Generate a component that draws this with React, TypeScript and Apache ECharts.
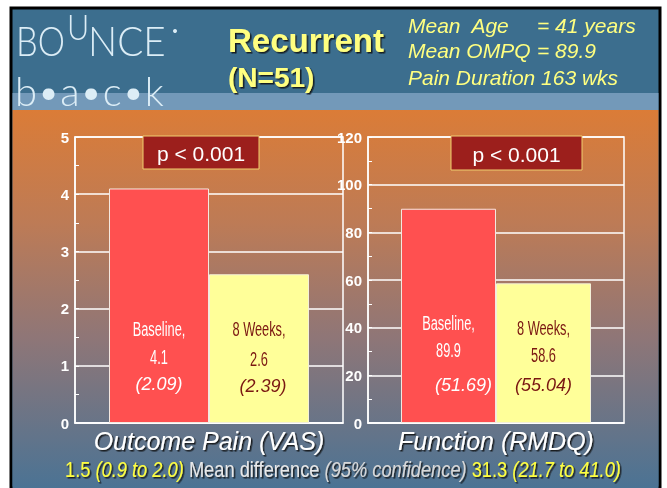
import React, { useEffect, useRef } from "react";
import * as echarts from "echarts";

const categories = ["Outcome Pain (VAS)", "Function (RMDQ)"];
const seriesNames = ["Baseline", "8 Weeks"];
const baselineValues = [4.1, 89.9];
const week8Values = [2.6, 58.6];
const baselineSD = ["2.09", "51.69"];
const week8SD = ["2.39", "55.04"];
const axisMax = [5, 120];
const axisInterval = [1, 20];
const pTexts = ["p < 0.001", "p < 0.001"];
const meanDiff = ["1.5", "31.3"];
const meanDiffCI = ["(0.9 to 2.0)", "(21.7 to 41.0)"];
const headerStats = [
  ["Mean  Age", "= 41 years"],
  ["Mean OMPQ", "= 89.9"],
  ["Pain Duration 163 wks", ""],
];

const ARIAL = "'Liberation Sans', Arial, sans-serif";
const YELLOW = "#ffff80";
const DARKRED = "#7a1712";

const grids = [
  { left: 75, top: 137, width: 268, height: 286, barWidth: 100 },
  { left: 368, top: 137, width: 256, height: 286, barWidth: 95 },
];

// label line offsets (px above the bar base) for [grid][series] and x-shift of the SD line
const labelLayout = [
  [
    { dy: [94, 66, 39], sdShift: 0 },
    { dy: [94, 64, 37], sdShift: 4 },
  ],
  [
    { dy: [100, 73, 38], sdShift: 15 },
    { dy: [95, 68, 38], sdShift: 0 },
  ],
];

const shadow = {
  textShadowColor: "rgba(15,15,15,0.85)",
  textShadowBlur: 1,
  textShadowOffsetX: 1.5,
  textShadowOffsetY: 1.5,
};

export default function App() {
  const ref = useRef<HTMLDivElement>(null);

  useEffect(() => {
    if (!ref.current) return;
    const chart = echarts.init(ref.current, null, { renderer: "svg" });

    const option: any = {
      animation: false,
      grid: grids.map((g) => ({
        left: g.left,
        top: g.top,
        width: g.width,
        height: g.height,
        show: true,
        borderColor: "#ffffff",
        borderWidth: 1.5,
        backgroundColor: "transparent",
      })),
      xAxis: categories.map((c, i) => ({
        type: "category",
        gridIndex: i,
        data: [c],
        axisLine: { lineStyle: { color: "#ffffff", width: 1.5 } },
        axisTick: { show: false },
        axisLabel: {
          margin: 5,
          color: "#ffffff",
          fontFamily: ARIAL,
          fontStyle: "italic",
          fontSize: 25,
          ...shadow,
        },
      })),
      yAxis: categories.map((c, i) => ({
        type: "value",
        gridIndex: i,
        min: 0,
        max: axisMax[i],
        interval: axisInterval[i],
        axisLine: { show: true, lineStyle: { color: "#ffffff", width: 1.5 } },
        axisTick: { show: true, inside: true, length: 4, lineStyle: { color: "#ffffff" } },
        minorTick: { show: true, splitNumber: 2, length: 4, lineStyle: { color: "#ffffff" } },
        splitLine: { show: true, lineStyle: { color: "#ffffff", width: 1.5 } },
        axisLabel: {
          margin: 6,
          color: "#ffffff",
          fontFamily: ARIAL,
          fontWeight: "bold",
          fontSize: 15,
        },
      })),
      series: categories.flatMap((c, i) => [
        {
          name: seriesNames[0],
          type: "bar",
          xAxisIndex: i,
          yAxisIndex: i,
          barWidth: grids[i].barWidth,
          barGap: "0%",
          data: [baselineValues[i]],
          itemStyle: { color: "#ff5050", borderColor: "#f4e8e0", borderWidth: 1 },
        },
        {
          name: seriesNames[1],
          type: "bar",
          xAxisIndex: i,
          yAxisIndex: i,
          barWidth: grids[i].barWidth,
          barGap: "0%",
          data: [week8Values[i]],
          itemStyle: { color: "#ffff99", borderColor: "#f4f0d8", borderWidth: 1 },
        },
      ]),
    };

    chart.setOption(option);

    const logoFill = "#dcedf6";
    const graphic: any[] = [
      { type: "rect", z: -20, shape: { x: 0, y: 0, width: 667, height: 488 }, style: { fill: "#ffffff" } },
      {
        type: "rect",
        z: -19,
        shape: { x: 11, y: 8, width: 649, height: 480 },
        style: { fill: "#3c6e8e", stroke: "#000", lineWidth: 3 },
      },
      { type: "rect", z: -18, shape: { x: 12.5, y: 93, width: 646, height: 17 }, style: { fill: "#7399b9" } },
      {
        type: "rect",
        z: -18,
        shape: { x: 12.5, y: 110, width: 646, height: 378 },
        style: {
          fill: new echarts.graphic.LinearGradient(0, 0, 0, 1, [
            { offset: 0, color: "#db7c37" },
            { offset: 0.3, color: "#bd7b56" },
            { offset: 0.6, color: "#8f7677" },
            { offset: 1, color: "#4b7394" },
          ]),
        },
      },
      // logo
      { type: "text", z: 10, x: 16, y: 61, scaleX: 0.82, style: { text: "BO", x: 0, y: 0, font: `300 42px Lato, ${ARIAL}`, fill: logoFill, textVerticalAlign: "bottom" } },
      { type: "text", z: 10, x: 67, y: 44, scaleX: 0.85, style: { text: "U", x: 0, y: 0, font: `300 36px Lato, ${ARIAL}`, fill: logoFill, textVerticalAlign: "bottom" } },
      { type: "text", z: 10, x: 88, y: 61, scaleX: 0.92, style: { text: "NCE", x: 0, y: 0, font: `300 42px Lato, ${ARIAL}`, fill: logoFill, textVerticalAlign: "bottom" } },
      { type: "circle", z: 10, shape: { cx: 175, cy: 31, r: 2 }, style: { fill: logoFill } },
      { type: "text", z: 10, style: { text: "b•a•c•k", x: 15, y: 111, font: `300 40px Lato, ${ARIAL}`, fill: logoFill, textVerticalAlign: "bottom" } },
      // title
      { type: "text", z: 10, style: { text: "Recurrent", x: 228, y: 40, font: `bold 33px ${ARIAL}`, fill: YELLOW, textVerticalAlign: "middle", ...shadow } },
      { type: "text", z: 10, style: { text: "(N=51)", x: 228, y: 77, font: `bold 28px ${ARIAL}`, fill: YELLOW, textVerticalAlign: "middle", ...shadow } },
    ];

    const statY = [25, 50, 77];
    headerStats.forEach((row, i) => {
      graphic.push({ type: "text", z: 10, style: { text: row[0], x: 408, y: statY[i], font: `italic 21px ${ARIAL}`, fill: YELLOW, textVerticalAlign: "middle" } });
      if (row[1]) {
        graphic.push({ type: "text", z: 10, style: { text: row[1], x: 537, y: statY[i], font: `italic 21px ${ARIAL}`, fill: YELLOW, textVerticalAlign: "middle" } });
      }
    });

    const pBoxes = [
      { x: 143, y: 136, w: 116, h: 33 },
      { x: 451, y: 136, w: 131, h: 34 },
    ];
    pBoxes.forEach((b, i) => {
      graphic.push({ type: "rect", z: 10, shape: { x: b.x, y: b.y, width: b.w, height: b.h }, style: { fill: "#9c1f1c", stroke: "#f0d070", lineWidth: 1 } });
      graphic.push({ type: "text", z: 11, style: { text: pTexts[i], x: b.x + b.w / 2, y: b.y + b.h / 2 + 1, font: `21px ${ARIAL}`, fill: "#ffffff", textAlign: "center", textVerticalAlign: "middle" } });
    });

    // bar labels placed through the chart's own scales
    categories.forEach((c, i) => {
      const [cx, y0] = chart.convertToPixel({ gridIndex: i } as any, [0, 0]) as number[];
      const bw = grids[i].barWidth;
      const sets = [
        { name: seriesNames[0], v: baselineValues[i], sd: baselineSD[i], color: "#ffffff", x: cx - bw / 2 },
        { name: seriesNames[1], v: week8Values[i], sd: week8SD[i], color: DARKRED, x: cx + bw / 2 },
      ];
      sets.forEach((s, k) => {
        const L = labelLayout[i][k];
        graphic.push({ type: "text", z: 12, x: s.x, y: y0 - L.dy[0], scaleX: 0.64, style: { text: `${s.name},`, x: 0, y: 0, font: `20px ${ARIAL}`, fill: s.color, textAlign: "center", textVerticalAlign: "middle" } });
        graphic.push({ type: "text", z: 12, x: s.x, y: y0 - L.dy[1], scaleX: 0.64, style: { text: `${s.v}`, x: 0, y: 0, font: `20px ${ARIAL}`, fill: s.color, textAlign: "center", textVerticalAlign: "middle" } });
        graphic.push({ type: "text", z: 12, x: s.x + L.sdShift, y: y0 - L.dy[2], style: { text: `(${s.sd})`, x: 0, y: 0, font: `italic 18px ${ARIAL}`, fill: s.color, textAlign: "center", textVerticalAlign: "middle" } });
      });
    });

    graphic.push({
      type: "text",
      z: 10,
      x: 343,
      y: 469,
      scaleX: 0.83,
      style: {
        x: 0,
        y: 0,
        textAlign: "center",
        textVerticalAlign: "middle",
        text: `{y|${meanDiff[0]} }{yi|${meanDiffCI[0]}}{w| Mean difference }{wi|(95% confidence)}{y| ${meanDiff[1]} }{yi|${meanDiffCI[1]}}`,
        rich: {
          y: { fontFamily: ARIAL, fontSize: 22, fill: "#ffff40", ...shadow },
          yi: { fontFamily: ARIAL, fontSize: 22, fontStyle: "italic", fill: "#ffff40", ...shadow },
          w: { fontFamily: ARIAL, fontSize: 22, fill: "#e8e8e8", ...shadow },
          wi: { fontFamily: ARIAL, fontSize: 22, fontStyle: "italic", fill: "#d8d8d8", ...shadow },
        },
      },
    });

    chart.setOption({ graphic: { elements: graphic } });
    return () => chart.dispose();
  }, []);

  return <div ref={ref} style={{ position: "fixed", left: 0, top: 0, width: 667, height: 488 }} />;
}
